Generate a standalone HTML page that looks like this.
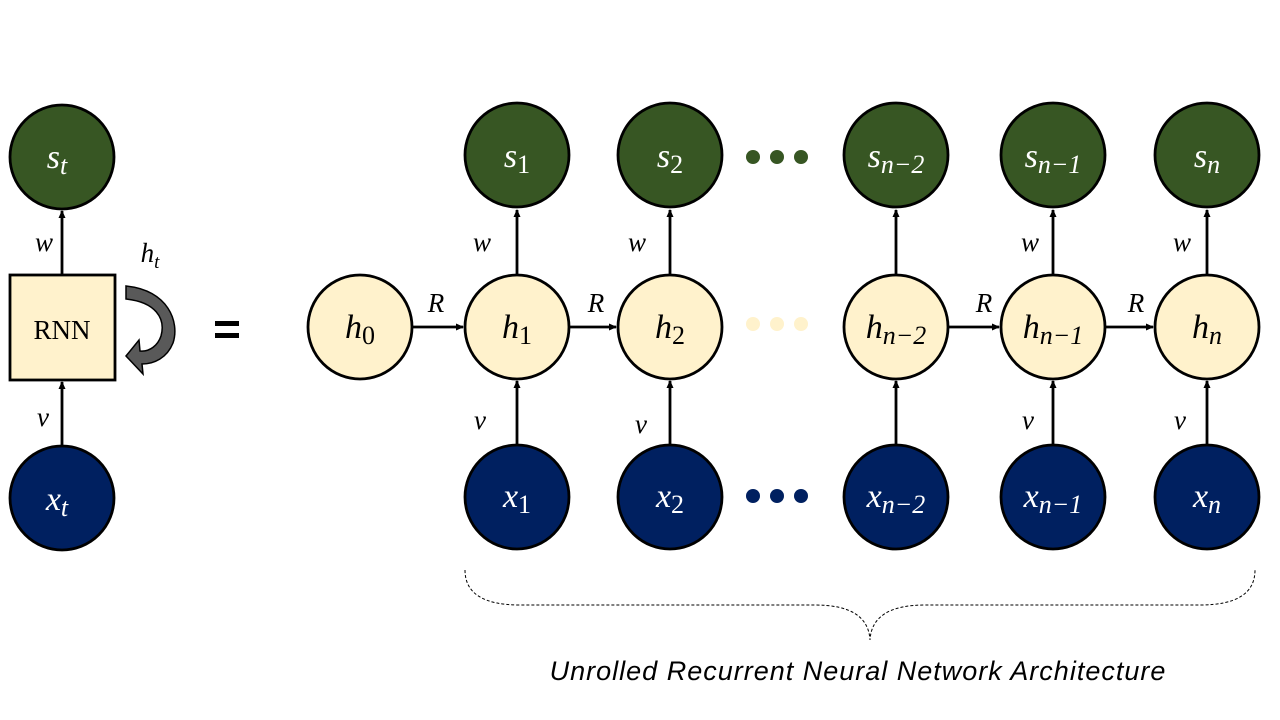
<!DOCTYPE html>
<html><head><meta charset="utf-8"><style>
html,body{margin:0;padding:0;background:#fff}
svg{display:block}
.m{font-family:"Liberation Serif","DejaVu Serif",serif;font-style:italic}
</style></head><body>
<svg width="1280" height="720" viewBox="0 0 1280 720" xmlns="http://www.w3.org/2000/svg">
<defs>
<marker id="a" markerWidth="8" markerHeight="8" refX="7" refY="4" orient="auto" markerUnits="userSpaceOnUse">
<path d="M0,0.5 L8,4 L0,7.5 Z" fill="#000"/></marker>
</defs>
<g stroke="#000" stroke-width="2.8" fill="none">
<line x1="62" y1="275" x2="62" y2="211" marker-end="url(#a)"/>
<line x1="62" y1="445" x2="62" y2="382" marker-end="url(#a)"/>
<line x1="517" y1="274" x2="517" y2="210" marker-end="url(#a)"/>
<line x1="670" y1="274" x2="670" y2="210" marker-end="url(#a)"/>
<line x1="896" y1="274" x2="896" y2="210" marker-end="url(#a)"/>
<line x1="1053" y1="274" x2="1053" y2="210" marker-end="url(#a)"/>
<line x1="1207" y1="274" x2="1207" y2="210" marker-end="url(#a)"/>
<line x1="517" y1="444" x2="517" y2="381" marker-end="url(#a)"/>
<line x1="670" y1="444" x2="670" y2="381" marker-end="url(#a)"/>
<line x1="896" y1="444" x2="896" y2="381" marker-end="url(#a)"/>
<line x1="1053" y1="444" x2="1053" y2="381" marker-end="url(#a)"/>
<line x1="1207" y1="444" x2="1207" y2="381" marker-end="url(#a)"/>
<line x1="412" y1="327" x2="463" y2="327" marker-end="url(#a)"/>
<line x1="569" y1="327" x2="616" y2="327" marker-end="url(#a)"/>
<line x1="948" y1="327" x2="999" y2="327" marker-end="url(#a)"/>
<line x1="1105" y1="327" x2="1153" y2="327" marker-end="url(#a)"/>
</g>
<g stroke="#000" stroke-width="2.8">
<circle cx="62" cy="157" r="52" fill="#375623"/>
<circle cx="62" cy="498" r="52" fill="#002060"/>
<rect x="10" y="275" width="105" height="105" fill="#FFF2CC"/>
<circle cx="517" cy="155" r="52" fill="#375623"/>
<circle cx="670" cy="155" r="52" fill="#375623"/>
<circle cx="896" cy="155" r="52" fill="#375623"/>
<circle cx="1053" cy="155" r="52" fill="#375623"/>
<circle cx="1207" cy="155" r="52" fill="#375623"/>
<circle cx="360" cy="327" r="52" fill="#FFF2CC"/>
<circle cx="517" cy="327" r="52" fill="#FFF2CC"/>
<circle cx="670" cy="327" r="52" fill="#FFF2CC"/>
<circle cx="896" cy="327" r="52" fill="#FFF2CC"/>
<circle cx="1053" cy="327" r="52" fill="#FFF2CC"/>
<circle cx="1207" cy="327" r="52" fill="#FFF2CC"/>
<circle cx="517" cy="497" r="52" fill="#002060"/>
<circle cx="670" cy="497" r="52" fill="#002060"/>
<circle cx="896" cy="497" r="52" fill="#002060"/>
<circle cx="1053" cy="497" r="52" fill="#002060"/>
<circle cx="1207" cy="497" r="52" fill="#002060"/>
</g>
<g fill="#375623"><circle cx="753" cy="157" r="7"/><circle cx="777" cy="157" r="7"/><circle cx="801" cy="157" r="7"/></g>
<g fill="#FFF2CC"><circle cx="753" cy="324" r="7"/><circle cx="777" cy="324" r="7"/><circle cx="801" cy="324" r="7"/></g>
<g fill="#002060"><circle cx="753" cy="496" r="7"/><circle cx="777" cy="496" r="7"/><circle cx="801" cy="496" r="7"/></g>
<path d="M126,286 C168,290 180,322 173,343 C167,358 154,364 142,364 L143,374 L126,356 L139,340 L140,351 C150,352 158,345 161,336 C166,318 155,302 126,299 Z" fill="#595959" stroke="#000" stroke-width="1.5"/>
<rect x="215" y="321" width="24" height="5" fill="#000"/>
<rect x="215" y="333" width="24" height="5" fill="#000"/>
<text x="62" y="339" font-family="Liberation Serif,serif" font-size="27" text-anchor="middle">RNN</text>
<g class="m" fill="#fff" font-size="34" text-anchor="middle">
<text x="57" y="168">s<tspan font-size="26" dy="6">t</tspan></text>
<text x="57" y="510">x<tspan font-size="26" dy="6">t</tspan></text>
<text x="517" y="167">s<tspan font-size="26" dy="6" font-style="normal">1</tspan></text>
<text x="670" y="167">s<tspan font-size="26" dy="6" font-style="normal">2</tspan></text>
<text x="896" y="167">s<tspan font-size="26" dy="6">n−2</tspan></text>
<text x="1053" y="167">s<tspan font-size="26" dy="6">n−1</tspan></text>
<text x="1207" y="167">s<tspan font-size="26" dy="6">n</tspan></text>
<text x="517" y="507">x<tspan font-size="26" dy="6" font-style="normal">1</tspan></text>
<text x="670" y="507">x<tspan font-size="26" dy="6" font-style="normal">2</tspan></text>
<text x="896" y="507">x<tspan font-size="26" dy="6">n−2</tspan></text>
<text x="1053" y="507">x<tspan font-size="26" dy="6">n−1</tspan></text>
<text x="1207" y="507">x<tspan font-size="26" dy="6">n</tspan></text>
</g>
<g class="m" fill="#000" font-size="34" text-anchor="middle">
<text x="360" y="338">h<tspan font-size="26" dy="6" font-style="normal">0</tspan></text>
<text x="517" y="338">h<tspan font-size="26" dy="6" font-style="normal">1</tspan></text>
<text x="670" y="338">h<tspan font-size="26" dy="6" font-style="normal">2</tspan></text>
<text x="896" y="338">h<tspan font-size="26" dy="6">n−2</tspan></text>
<text x="1053" y="338">h<tspan font-size="26" dy="6">n−1</tspan></text>
<text x="1207" y="338">h<tspan font-size="26" dy="6">n</tspan></text>
</g>
<g class="m" fill="#000" font-size="27" text-anchor="middle">
<text x="44" y="251">w</text>
<text x="43" y="426">v</text>
<text x="150" y="262">h<tspan font-size="19" dy="6">t</tspan></text>
<text x="482" y="251">w</text>
<text x="637" y="251">w</text>
<text x="1030" y="251">w</text>
<text x="1182" y="251">w</text>
<text x="480" y="429">v</text>
<text x="641" y="433">v</text>
<text x="1028" y="429">v</text>
<text x="1180" y="429">v</text>
<text x="436" y="312">R</text>
<text x="596" y="312">R</text>
<text x="984" y="312">R</text>
<text x="1136" y="312">R</text>
</g>
<path d="M465,570 Q465,605 520,605 L815,605 Q868,605 870,640 Q872,605 925,605 L1200,605 Q1255,605 1255,570" fill="none" stroke="#000" stroke-width="1" stroke-dasharray="3,2"/>
<text x="858" y="680" font-family="Liberation Sans,sans-serif" font-style="italic" font-size="27" letter-spacing="1" text-anchor="middle">Unrolled Recurrent Neural Network Architecture</text>
</svg>
</body></html>
